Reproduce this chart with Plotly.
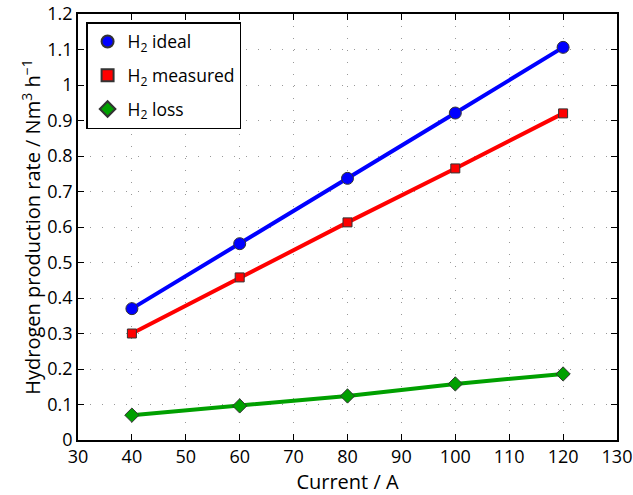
import plotly.graph_objects as go

current = [40, 60, 80, 100, 120]
h2_ideal = [0.370, 0.553, 0.737, 0.921, 1.106]
h2_measured = [0.300, 0.458, 0.613, 0.765, 0.920]
h2_loss = [0.070, 0.096, 0.124, 0.158, 0.186]

series = [
    ("H<sub>2</sub> ideal", h2_ideal, "blue", "circle", 12),
    ("H<sub>2</sub> measured", h2_measured, "red", "square", 9),
    ("H<sub>2</sub> loss", h2_loss, "#00a000", "diamond", 11),
]

fig = go.Figure()
for name, ys, col, sym, sz in series:
    fig.add_trace(go.Scatter(x=current, y=ys, mode="lines", line=dict(color=col, width=4),
                             showlegend=False, hoverinfo="skip"))
for i, (name, ys, col, sym, sz) in enumerate(series):
    fig.add_trace(go.Scatter(x=current, y=ys, mode="markers", name=name, legendgroup=f"g{i}",
                             marker=dict(color=col, symbol=sym, size=sz,
                                         line=dict(color="#333333", width=1))))

font = "Open Sans, Liberation Sans, sans-serif"
axis_common = dict(showline=True, linecolor="black", linewidth=1.5, mirror="ticks",
                   ticks="inside", ticklen=6, tickcolor="black", tickwidth=1.2,
                   showgrid=True, gridcolor="#999999", griddash="1px,11px", gridwidth=1,
                   zeroline=False, tickfont=dict(size=18, color="black"), automargin=False,
                   ticklabeloverflow="allow")

fig.update_layout(
    width=633, height=495,
    margin=dict(l=78, r=16, t=14, b=55),
    paper_bgcolor="white", plot_bgcolor="white",
    font=dict(family=font, size=18, color="black"),
    xaxis=dict(range=[30, 130], dtick=10, title=dict(text="Current / A", standoff=7,
               font=dict(size=20)), **axis_common),
    yaxis=dict(range=[0, 1.2], dtick=0.1, title=dict(text="Hydrogen production rate / Nm<sup>3</sup> h<sup>\u22121</sup>",
               standoff=1, font=dict(size=20)), **axis_common),
    legend=dict(x=0.015, y=0.981, xanchor="left", yanchor="top", bgcolor="white",
                bordercolor="black", borderwidth=1.5, font=dict(size=17.5),
                itemsizing="constant", tracegroupgap=8, entrywidth=155),
)

fig.write_html("out.html", config={"displayModeBar": False},
               post_script="document.body.style.margin='0';document.body.style.overflow='hidden';")
